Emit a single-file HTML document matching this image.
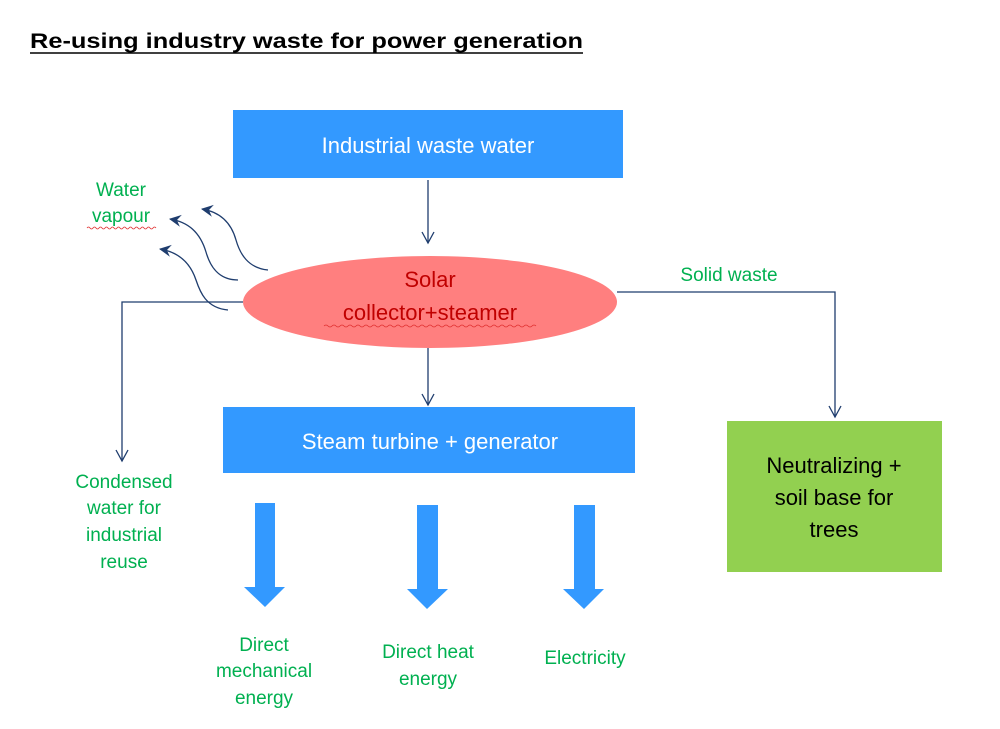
<!DOCTYPE html>
<html><head><meta charset="utf-8"><style>
html,body{margin:0;padding:0;background:#fff;}
svg{display:block;}
text{font-family:"Liberation Sans",sans-serif;}
</style></head><body>
<svg width="1000" height="729" viewBox="0 0 1000 729" xmlns="http://www.w3.org/2000/svg">
<defs>
<marker id="oa" markerWidth="14" markerHeight="14" refX="12" refY="7" orient="auto" markerUnits="userSpaceOnUse">
<path d="M1,1 L12,7 L1,13" fill="none" stroke="#1f3d6e" stroke-width="1.3"/>
</marker>
<marker id="fa" markerWidth="14" markerHeight="14" refX="11" refY="7" orient="auto" markerUnits="userSpaceOnUse">
<path d="M0,1 L12,7 L0,13 L4,7 Z" fill="#1f3d6e"/>
</marker>
</defs>
<text x="30" y="48" font-size="21" font-weight="bold" textLength="553" lengthAdjust="spacingAndGlyphs">Re-using industry waste for power generation</text>
<line x1="30" y1="53" x2="583" y2="53" stroke="#000" stroke-width="1.5"/>

<rect x="233" y="110" width="390" height="68" fill="#3399ff"/>
<text x="428" y="153" font-size="22" fill="#fff" text-anchor="middle">Industrial waste water</text>
<line x1="428" y1="180" x2="428" y2="243" stroke="#1f3d6e" stroke-width="1.3" marker-end="url(#oa)"/>

<ellipse cx="430" cy="302" rx="187" ry="46" fill="#ff7f7f"/>
<text x="430" y="287" font-size="22" fill="#c00000" text-anchor="middle">Solar</text>
<text x="430" y="320" font-size="22" fill="#c00000" text-anchor="middle">collector+steamer</text>
<path d="M324,326 q2,-2 4,0 t4,0 t4,0 t4,0 t4,0 t4,0 t4,0 t4,0 t4,0 t4,0 t4,0 t4,0 t4,0 t4,0 t4,0 t4,0 t4,0 t4,0 t4,0 t4,0 t4,0 t4,0 t4,0 t4,0 t4,0 t4,0 t4,0 t4,0 t4,0 t4,0 t4,0 t4,0 t4,0 t4,0 t4,0 t4,0 t4,0 t4,0 t4,0 t4,0 t4,0 t4,0 t4,0 t4,0 t4,0 t4,0 t4,0 t4,0 t4,0 t4,0 t4,0 t4,0 t4,0" fill="none" stroke="#e03030" stroke-width="0.8"/>

<path d="M268,270 C248,268 240,254 236,240 C231,222 220,212 202,209" fill="none" stroke="#1f3d6e" stroke-width="1.3" marker-end="url(#fa)"/>
<path d="M238,280 C218,280 210,266 206,252 C200,232 188,222 170,219" fill="none" stroke="#1f3d6e" stroke-width="1.3" marker-end="url(#fa)"/>
<path d="M228,310 C206,308 200,292 196,280 C190,262 178,252 160,249" fill="none" stroke="#1f3d6e" stroke-width="1.3" marker-end="url(#fa)"/>
<text x="121" y="196" font-size="19" fill="#00b050" text-anchor="middle">Water</text>
<text x="121" y="222" font-size="19" fill="#00b050" text-anchor="middle">vapour</text>
<path d="M87,228 q1.5,-2 3,0 t3,0 t3,0 t3,0 t3,0 t3,0 t3,0 t3,0 t3,0 t3,0 t3,0 t3,0 t3,0 t3,0 t3,0 t3,0 t3,0 t3,0 t3,0 t3,0 t3,0 t3,0 t3,0" fill="none" stroke="#e03030" stroke-width="0.8"/>

<polyline points="243,302 122,302 122,461" fill="none" stroke="#1f3d6e" stroke-width="1.3" marker-end="url(#oa)"/>
<text x="124" y="488" font-size="19" fill="#00b050" text-anchor="middle">Condensed</text>
<text x="124" y="514" font-size="19" fill="#00b050" text-anchor="middle">water for</text>
<text x="124" y="541" font-size="19" fill="#00b050" text-anchor="middle">industrial</text>
<text x="124" y="568" font-size="19" fill="#00b050" text-anchor="middle">reuse</text>

<polyline points="617,292 835,292 835,417" fill="none" stroke="#1f3d6e" stroke-width="1.3" marker-end="url(#oa)"/>
<text x="729" y="281" font-size="19" fill="#00b050" text-anchor="middle">Solid waste</text>

<line x1="428" y1="348" x2="428" y2="405" stroke="#1f3d6e" stroke-width="1.3" marker-end="url(#oa)"/>
<rect x="223" y="407" width="412" height="66" fill="#3399ff"/>
<text x="430" y="449" font-size="22" fill="#fff" text-anchor="middle">Steam turbine + generator</text>

<rect x="727" y="421" width="215" height="151" fill="#92d050"/>
<text x="834" y="473" font-size="22" fill="#000" text-anchor="middle">Neutralizing +</text>
<text x="834" y="505" font-size="22" fill="#000" text-anchor="middle">soil base for</text>
<text x="834" y="537" font-size="22" fill="#000" text-anchor="middle">trees</text>

<path d="M255,503 L275,503 L275,587 L285,587 L265,607 L244,587 L255,587 Z" fill="#3399ff"/>
<path d="M417,505 L438,505 L438,589 L448,589 L427,609 L407,589 L417,589 Z" fill="#3399ff"/>
<path d="M574,505 L595,505 L595,589 L604,589 L584,609 L563,589 L574,589 Z" fill="#3399ff"/>

<text x="264" y="651" font-size="19" fill="#00b050" text-anchor="middle">Direct</text>
<text x="264" y="677" font-size="19" fill="#00b050" text-anchor="middle">mechanical</text>
<text x="264" y="704" font-size="19" fill="#00b050" text-anchor="middle">energy</text>
<text x="428" y="658" font-size="19" fill="#00b050" text-anchor="middle">Direct heat</text>
<text x="428" y="685" font-size="19" fill="#00b050" text-anchor="middle">energy</text>
<text x="585" y="664" font-size="19" fill="#00b050" text-anchor="middle">Electricity</text>
</svg>
</body></html>
